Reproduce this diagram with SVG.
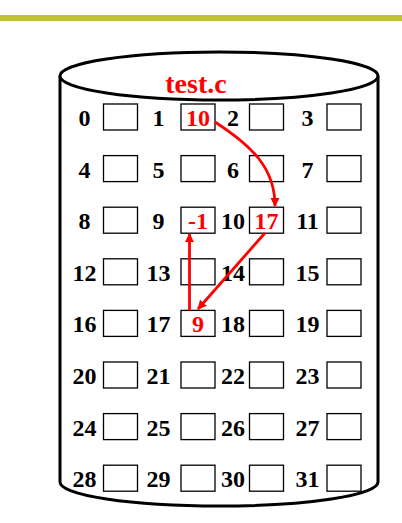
<svg xmlns="http://www.w3.org/2000/svg" width="402" height="523" viewBox="0 0 402 523">
<style>
.n{font-family:"Liberation Serif",serif;font-weight:bold;font-size:24px;fill:#000;text-anchor:middle}
.v{font-family:"Liberation Serif",serif;font-weight:bold;font-size:24px;fill:#FF0000;text-anchor:middle}
.b{fill:#fff;stroke:#000;stroke-width:1.3}
.a{fill:none;stroke:#FF0000;stroke-width:2.8}
</style>
<defs>
<marker id="ah" viewBox="0 0 10 10" refX="9" refY="5" markerWidth="3.3" markerHeight="3.3" orient="auto" markerUnits="strokeWidth">
<path d="M0,0 L10,5 L0,10 Z" fill="#FF0000"/>
</marker>
</defs>
<rect x="0" y="15" width="402" height="6" fill="#C0C040"/>
<g id="disk">
<path d="M60,76 L60,482 A159,24 0 0 0 378,482 L378,76" fill="#fff" stroke="#000" stroke-width="3"/>
<ellipse cx="219" cy="76" rx="159" ry="24" fill="#fff" stroke="#000" stroke-width="3"/>
<text x="196" y="93" style="font-family:'Liberation Serif',serif;font-weight:bold;font-size:28px;fill:#FF0000;text-anchor:middle">test.c</text>
</g>
<g id="r0">
<g id="c0"><text class="n" x="84.5" y="126">0</text><rect class="b" x="103.5" y="104" width="34" height="26"/></g>
<g id="c1"><text class="n" x="158.5" y="126">1</text><rect class="b" x="181" y="104" width="34" height="26"/><text class="v" x="198" y="126">10</text></g>
<g id="c2"><text class="n" x="233" y="126">2</text><rect class="b" x="249.5" y="104" width="34" height="26"/></g>
<g id="c3"><text class="n" x="307.5" y="126">3</text><rect class="b" x="327" y="104" width="34" height="26"/></g>
</g>
<g id="r1">
<g id="c4"><text class="n" x="84.5" y="177.6">4</text><rect class="b" x="103.5" y="155.6" width="34" height="26"/></g>
<g id="c5"><text class="n" x="158.5" y="177.6">5</text><rect class="b" x="181" y="155.6" width="34" height="26"/></g>
<g id="c6"><text class="n" x="233" y="177.6">6</text><rect class="b" x="249.5" y="155.6" width="34" height="26"/></g>
<g id="c7"><text class="n" x="307.5" y="177.6">7</text><rect class="b" x="327" y="155.6" width="34" height="26"/></g>
</g>
<g id="r2">
<g id="c8"><text class="n" x="84.5" y="229.2">8</text><rect class="b" x="103.5" y="207.2" width="34" height="26"/></g>
<g id="c9"><text class="n" x="158.5" y="229.2">9</text><rect class="b" x="181" y="207.2" width="34" height="26"/><text class="v" x="198" y="229.2">-1</text></g>
<g id="c10"><text class="n" x="233" y="229.2">10</text><rect class="b" x="249.5" y="207.2" width="34" height="26"/><text class="v" x="266.5" y="229.2">17</text></g>
<g id="c11"><text class="n" x="307.5" y="229.2">11</text><rect class="b" x="327" y="207.2" width="34" height="26"/></g>
</g>
<g id="r3">
<g id="c12"><text class="n" x="84.5" y="280.8">12</text><rect class="b" x="103.5" y="258.8" width="34" height="26"/></g>
<g id="c13"><text class="n" x="158.5" y="280.8">13</text><rect class="b" x="181" y="258.8" width="34" height="26"/></g>
<g id="c14"><text class="n" x="233" y="280.8">14</text><rect class="b" x="249.5" y="258.8" width="34" height="26"/></g>
<g id="c15"><text class="n" x="307.5" y="280.8">15</text><rect class="b" x="327" y="258.8" width="34" height="26"/></g>
</g>
<g id="r4">
<g id="c16"><text class="n" x="84.5" y="332.4">16</text><rect class="b" x="103.5" y="310.4" width="34" height="26"/></g>
<g id="c17"><text class="n" x="158.5" y="332.4">17</text><rect class="b" x="181" y="310.4" width="34" height="26"/><text class="v" x="198" y="332.4">9</text></g>
<g id="c18"><text class="n" x="233" y="332.4">18</text><rect class="b" x="249.5" y="310.4" width="34" height="26"/></g>
<g id="c19"><text class="n" x="307.5" y="332.4">19</text><rect class="b" x="327" y="310.4" width="34" height="26"/></g>
</g>
<g id="r5">
<g id="c20"><text class="n" x="84.5" y="384">20</text><rect class="b" x="103.5" y="362" width="34" height="26"/></g>
<g id="c21"><text class="n" x="158.5" y="384">21</text><rect class="b" x="181" y="362" width="34" height="26"/></g>
<g id="c22"><text class="n" x="233" y="384">22</text><rect class="b" x="249.5" y="362" width="34" height="26"/></g>
<g id="c23"><text class="n" x="307.5" y="384">23</text><rect class="b" x="327" y="362" width="34" height="26"/></g>
</g>
<g id="r6">
<g id="c24"><text class="n" x="84.5" y="435.6">24</text><rect class="b" x="103.5" y="413.6" width="34" height="26"/></g>
<g id="c25"><text class="n" x="158.5" y="435.6">25</text><rect class="b" x="181" y="413.6" width="34" height="26"/></g>
<g id="c26"><text class="n" x="233" y="435.6">26</text><rect class="b" x="249.5" y="413.6" width="34" height="26"/></g>
<g id="c27"><text class="n" x="307.5" y="435.6">27</text><rect class="b" x="327" y="413.6" width="34" height="26"/></g>
</g>
<g id="r7">
<g id="c28"><text class="n" x="84.5" y="487.2">28</text><rect class="b" x="103.5" y="465.2" width="34" height="26"/></g>
<g id="c29"><text class="n" x="158.5" y="487.2">29</text><rect class="b" x="181" y="465.2" width="34" height="26"/></g>
<g id="c30"><text class="n" x="233" y="487.2">30</text><rect class="b" x="249.5" y="465.2" width="34" height="26"/></g>
<g id="c31"><text class="n" x="307.5" y="487.2">31</text><rect class="b" x="327" y="465.2" width="34" height="26"/></g>
</g>
<g id="connectors">
<path class="a" d="M215,122 C252,146 275,168 275,206" marker-end="url(#ah)"/>
<path class="a" d="M265,233 L198,309" marker-end="url(#ah)"/>
<path class="a" d="M189.5,310.4 L189.5,234" marker-end="url(#ah)"/>
</g>
</svg>
